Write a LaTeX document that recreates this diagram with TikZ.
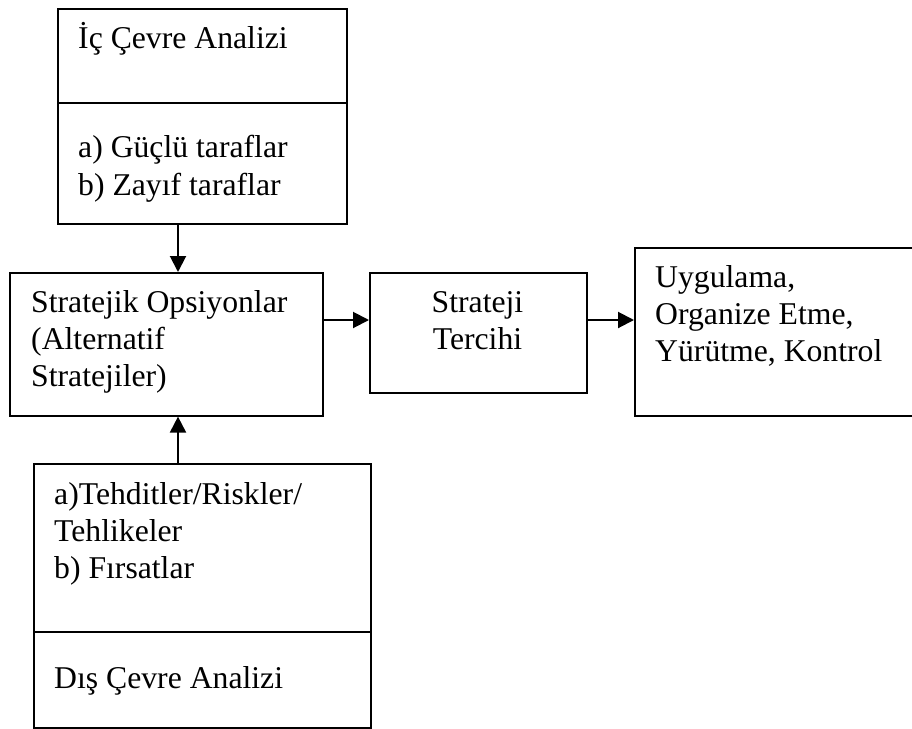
\documentclass[tikz,border=0pt]{standalone}
\usepackage{fontspec}
\setmainfont{Liberation Serif}
\usetikzlibrary{arrows.meta}
\begin{document}
\begin{tikzpicture}[x=1pt,y=-1pt,
  box/.style={draw, line width=1.6pt, rectangle, inner sep=0pt, anchor=north west},
  rule/.style={line width=1.6pt},
  txt/.style={inner sep=0pt, anchor=base west, font=\fontsize{31.7}{37}\selectfont},
  ctxt/.style={txt, anchor=base},
  flow/.style={line width=2pt, -{Triangle[length=16pt,width=16pt]}}]
\useasboundingbox (0,0) rectangle (912,728);
\clip (0,0) rectangle (912,728);

% boxes
\node[box, minimum width=289pt, minimum height=215pt] (ic)  at (57,8) {};
\node[box, minimum width=313pt, minimum height=143pt] (so)  at (9,272) {};
\node[box, minimum width=217pt, minimum height=120pt] (st)  at (369,272) {};
\node[box, minimum width=277.5pt, minimum height=168pt] (uy) at (634,247) {};
\node[box, minimum width=337pt, minimum height=264pt] (dis) at (33,463) {};

% dividers inside the two analysis boxes
\coordinate (icdiv) at (0,103);
\coordinate (disdiv) at (0,632);
\draw[rule] (ic.west |- icdiv) -- (ic.east |- icdiv);
\draw[rule] (dis.west |- disdiv) -- (dis.east |- disdiv);

% texts
\node[txt] (t1) at (78,48) {İç Çevre Analizi};
\node[txt] (t2) at (78,157) {a) Güçlü taraflar};
\node[txt] (t3) at (78,195) {b) Zayıf taraflar};

\node[txt] (t4) at (31,312) {Stratejik Opsiyonlar};
\node[txt] (t5) at (31,349) {(Alternatif};
\node[txt] (t6) at (31,386) {Stratejiler)};

\node[ctxt] (t7) at (477.5,312) {Strateji};
\node[ctxt] (t8) at (477.5,349) {Tercihi};

\node[txt] (t9)  at (655,287) {Uygulama,};
\node[txt] (t10) at (655,324) {Organize Etme,};
\node[txt] (t11) at (655,361) {Yürütme, Kontrol};

\node[txt] (t12) at (54,504) {a)Tehditler/Riskler/};
\node[txt] (t13) at (54,541) {Tehlikeler};
\node[txt] (t14) at (54,578) {b) Fırsatlar};
\node[txt] (t15) at (54,688) {Dış Çevre Analizi};

% connectors
\coordinate (ax) at (178,0);
\coordinate (ay) at (0,320);
\draw[flow] (ic.south -| ax) -- (so.north -| ax);
\draw[flow] (dis.north -| ax) -- (so.south -| ax);
\draw[flow] (so.east |- ay) -- (st.west |- ay);
\draw[flow] (st.east |- ay) -- (uy.west |- ay);
\end{tikzpicture}
\end{document}
